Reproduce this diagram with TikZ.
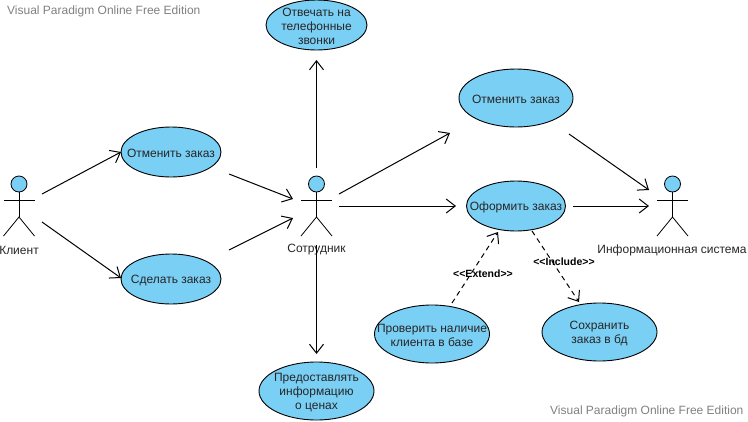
\documentclass[tikz,border=0pt]{standalone}
\usepackage{fontspec}
\setmainfont{Liberation Sans}
\usetikzlibrary{shapes.geometric,arrows.meta}
\definecolor{ucfill}{HTML}{7ACFF5}
\definecolor{uctext}{HTML}{262626}
\tikzset{
  usecase/.style={ellipse,draw=black,line width=0.9pt,fill=ucfill,inner sep=0pt},
  uclabel/.style={align=center,text=uctext,inner sep=0pt,yshift=-1.3pt,font=\fontsize{12}{14}\selectfont},
  head/.style={circle,draw=black,line width=0.8pt,fill=ucfill,inner sep=0pt,minimum size=16pt},
  limb/.style={draw=black,line width=0.8pt},
  actorlabel/.style={text=uctext,font=\fontsize{12}{14}\selectfont,inner sep=0pt},
  assoc/.style={draw=black,line width=1pt,-{Straight Barb[length=9pt,width=14pt,line width=1pt]}},
  dep/.style={assoc,dash pattern=on 5pt off 4pt},
  stereo/.style={font=\fontsize{10.5}{12}\selectfont\bfseries,text=black,inner sep=0pt},
  watermark/.style={text=gray,font=\fontsize{12}{14}\selectfont,inner sep=0pt,anchor=west}
}
\newcommand{\stickman}[4]{% name, x, label, label x
  \node[head] (#1head) at (#2,184) {};
  \coordinate (#1neck) at (#2,192);
  \coordinate (#1hip) at (#2,217);
  \draw[limb] (#1neck) -- (#1hip);
  \draw[limb] (#2-15.5,200) -- (#2+15.5,200);
  \draw[limb] (#2-15.5,236) -- (#1hip) -- (#2+15.5,236);
  \node[actorlabel] (#1label) at (#4,250) {#3};
}
\begin{document}
\begin{tikzpicture}[x=1pt,y=-1pt]
\useasboundingbox (0,0) rectangle (748,421);
\node[watermark] (wm1) at (7,11.5) {Visual Paradigm Online Free Edition};
\node[watermark] (wm2) at (550,411.5) {Visual Paradigm Online Free Edition};

\stickman{client}{19}{Клиент}{19}
\stickman{staff}{316.5}{Сотрудник}{316.5}
\stickman{sys}{672.5}{Информационная система}{672}

\node[usecase,minimum width=100pt,minimum height=50pt,label={[uclabel]center:Отменить заказ}] (cancelA) at (171,152) {};
\node[usecase,minimum width=100pt,minimum height=50pt,label={[uclabel]center:Сделать заказ}] (make) at (171,279) {};
\node[usecase,minimum width=101pt,minimum height=50pt,label={[uclabel]center:Отвечать на\\телефонные\\звонки}] (phone) at (316.5,25) {};
\node[usecase,minimum width=115pt,minimum height=58pt,label={[uclabel]center:Предоставлять\\информацию\\о ценах}] (price) at (316.5,391) {};
\node[usecase,minimum width=114pt,minimum height=58pt,label={[uclabel]center:Отменить заказ}] (cancelB) at (516,98) {};
\node[usecase,minimum width=99pt,minimum height=50pt,label={[uclabel]center:Оформить заказ}] (order) at (516,206) {};
\node[usecase,minimum width=115pt,minimum height=58pt,label={[uclabel]center:Проверить наличие\\клиента в базе}] (check) at (432,334) {};
\node[usecase,minimum width=115pt,minimum height=58pt,label={[uclabel]center:Сохранить\\заказ в бд}] (save) at (599.5,332) {};

\coordinate (c1) at (42,194);
\coordinate (c2) at (42,222);
\coordinate (a1) at (121,152);
\coordinate (a2) at (121,278);
\coordinate (s1) at (229,174);
\coordinate (s2) at (229,250);
\coordinate (t1) at (293,199);
\coordinate (t2) at (293,218);
\coordinate (u1) at (316.5,168);
\coordinate (u2) at (316.5,60);
\coordinate (r1) at (339,194);
\coordinate (r2) at (450,133);
\coordinate (f1) at (339,206);
\coordinate (f2) at (456,206);
\coordinate (d1) at (316.5,245);
\coordinate (d2) at (316.5,354);
\coordinate (b1) at (569,134);
\coordinate (b2) at (649,190);
\coordinate (o1) at (573,206);
\coordinate (o2) at (649,206);
\coordinate (e1) at (452,303);
\coordinate (e2) at (498,232);
\coordinate (i1) at (532,231);
\coordinate (i2) at (579,302);

\draw[assoc] (c1) -- (a1);
\draw[assoc] (c2) -- (a2);
\draw[assoc] (s1) -- (t1);
\draw[assoc] (s2) -- (t2);
\draw[assoc] (u1) -- (u2);
\draw[assoc] (r1) -- (r2);
\draw[assoc] (f1) -- (f2);
\draw[assoc] (d1) -- (d2);
\draw[assoc] (b1) -- (b2);
\draw[assoc] (o1) -- (o2);
\draw[dep] (e1) -- (e2);
\draw[dep] (i1) -- (i2);

\node[stereo] (extlabel) at (483,274) {<{}<Extend>{}>};
\node[stereo] (inclabel) at (564,262) {<{}<Include>{}>};
\end{tikzpicture}
\end{document}
